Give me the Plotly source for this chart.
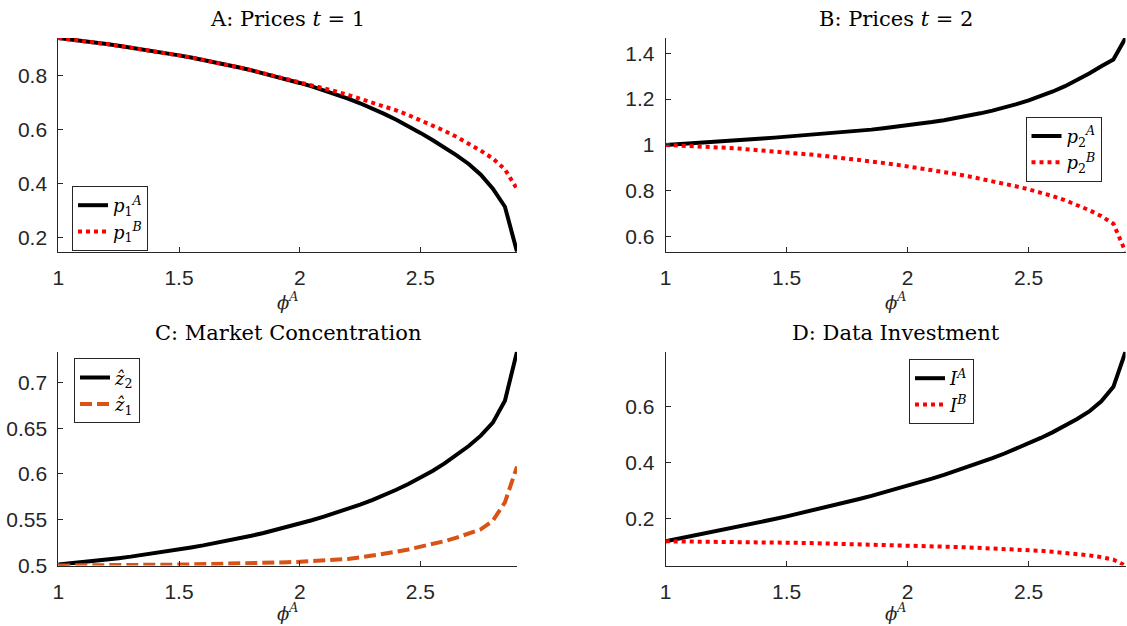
import plotly.graph_objects as go

# ---------------- data ----------------
phi = [1.00, 1.05, 1.10, 1.15, 1.20, 1.25, 1.30, 1.35, 1.40, 1.45,
       1.50, 1.55, 1.60, 1.65, 1.70, 1.75, 1.80, 1.85, 1.90, 1.95,
       2.00, 2.05, 2.10, 2.15, 2.20, 2.25, 2.30, 2.35, 2.40, 2.45,
       2.50, 2.55, 2.60, 2.65, 2.70, 2.75, 2.80, 2.85, 2.90]

p1A = [0.9400, 0.9350, 0.9295, 0.9235, 0.9175, 0.9110, 0.9045, 0.8975, 0.8905, 0.8830,
       0.8755, 0.8675, 0.8590, 0.8500, 0.8405, 0.8305, 0.8200, 0.8090, 0.7975, 0.7855,
       0.7730, 0.7600, 0.7460, 0.7310, 0.7150, 0.6975, 0.6785, 0.6580, 0.6360, 0.6125,
       0.5875, 0.5610, 0.5330, 0.5040, 0.4720, 0.4320, 0.3800, 0.3130, 0.1460]
p1B = [0.9400, 0.9350, 0.9295, 0.9235, 0.9175, 0.9110, 0.9045, 0.8975, 0.8905, 0.8830,
       0.8755, 0.8675, 0.8590, 0.8500, 0.8405, 0.8305, 0.8200, 0.8090, 0.7985, 0.7885,
       0.7780, 0.7660, 0.7540, 0.7415, 0.7285, 0.7150, 0.7010, 0.6865, 0.6710, 0.6535,
       0.6350, 0.6155, 0.5950, 0.5725, 0.5480, 0.5215, 0.4920, 0.4520, 0.3790]

p2A = [1.0000, 1.0030, 1.0062, 1.0095, 1.0130, 1.0166, 1.0203, 1.0241, 1.0280, 1.0320,
       1.0360, 1.0395, 1.0433, 1.0474, 1.0518, 1.0565, 1.0615, 1.0668, 1.0725, 1.0786,
       1.0851, 1.0921, 1.0997, 1.1080, 1.1170, 1.1269, 1.1378, 1.1498, 1.1630, 1.1777,
       1.1941, 1.2125, 1.2330, 1.2560, 1.2820, 1.3110, 1.3430, 1.3720, 1.4660]
p2B = [1.0000, 0.9982, 0.9960, 0.9935, 0.9907, 0.9876, 0.9842, 0.9805, 0.9765, 0.9722,
       0.9677, 0.9630, 0.9580, 0.9527, 0.9471, 0.9412, 0.9350, 0.9285, 0.9217, 0.9146,
       0.9072, 0.8995, 0.8913, 0.8826, 0.8734, 0.8637, 0.8535, 0.8427, 0.8313, 0.8193,
       0.8067, 0.7925, 0.7768, 0.7590, 0.7390, 0.7160, 0.6900, 0.6570, 0.5350]

z2 = [0.5010, 0.5022, 0.5036, 0.5050, 0.5065, 0.5080, 0.5097, 0.5115, 0.5134, 0.5154,
      0.5175, 0.5197, 0.5220, 0.5244, 0.5270, 0.5297, 0.5325, 0.5355, 0.5387, 0.5421,
      0.5457, 0.5494, 0.5533, 0.5574, 0.5618, 0.5665, 0.5715, 0.5769, 0.5827, 0.5890,
      0.5958, 0.6033, 0.6115, 0.6205, 0.6305, 0.6418, 0.6560, 0.6800, 0.7335]
z1 = [0.5000, 0.5000, 0.5000, 0.5000, 0.5001, 0.5002, 0.5003, 0.5004, 0.5006, 0.5008,
      0.5010, 0.5012, 0.5014, 0.5017, 0.5020, 0.5023, 0.5027, 0.5031, 0.5035, 0.5036,
      0.5041, 0.5046, 0.5052, 0.5059, 0.5072, 0.5088, 0.5106, 0.5127, 0.5150, 0.5175,
      0.5202, 0.5232, 0.5266, 0.5304, 0.5345, 0.5395, 0.5490, 0.5690, 0.6080]

IA = [0.1170, 0.1255, 0.1340, 0.1426, 0.1513, 0.1601, 0.1690, 0.1781, 0.1874, 0.1969,
      0.2066, 0.2164, 0.2264, 0.2366, 0.2471, 0.2578, 0.2688, 0.2801, 0.2917, 0.3037,
      0.3160, 0.3287, 0.3418, 0.3554, 0.3695, 0.3842, 0.3995, 0.4155, 0.4323, 0.4499,
      0.4685, 0.4882, 0.5092, 0.5318, 0.5563, 0.5835, 0.6200, 0.6720, 0.7980]
IB = [0.1170, 0.1168, 0.1165, 0.1161, 0.1157, 0.1152, 0.1147, 0.1141, 0.1135, 0.1128,
      0.1121, 0.1113, 0.1105, 0.1096, 0.1087, 0.1077, 0.1067, 0.1056, 0.1045, 0.1033,
      0.1021, 0.1008, 0.0994, 0.0980, 0.0965, 0.0949, 0.0932, 0.0914, 0.0895, 0.0874,
      0.0852, 0.0828, 0.0790, 0.0755, 0.0715, 0.0665, 0.0600, 0.0510, 0.0300]

x_ticks = [1, 1.5, 2, 2.5]
x_ticktext = ["1", "1.5", "2", "2.5"]
yA_ticks = [0.2, 0.4, 0.6, 0.8]
yA_text = ["0.2", "0.4", "0.6", "0.8"]
yB_ticks = [0.6, 0.8, 1.0, 1.2, 1.4]
yB_text = ["0.6", "0.8", "1", "1.2", "1.4"]
yC_ticks = [0.5, 0.55, 0.6, 0.65, 0.7]
yC_text = ["0.5", "0.55", "0.6", "0.65", "0.7"]
yD_ticks = [0.2, 0.4, 0.6]
yD_text = ["0.2", "0.4", "0.6"]

titles = ["A: Prices <i>t</i> = 1", "B: Prices <i>t</i> = 2",
          "C: Market Concentration", "D: Data Investment"]
xlabel = "<i>ϕ</i><sup><i>A</i></sup>"

# ---------------- styling ----------------
W, H = 1127, 626
BLACK = "#000000"
RED = "#FF0000"
ORANGE = "#D95319"
AXC = "#262626"
TICKFONT = dict(family="Liberation Sans, Arial, sans-serif", size=21, color=AXC)
SERIF = "DejaVu Serif, Liberation Serif, serif"

# pixel boxes of the four axes: (left, right, top, bottom)
boxes = [(58.3, 517.0, 38.0, 251.7),
         (665.7, 1125.5, 38.0, 251.7),
         (58.3, 517.0, 351.7, 565.5),
         (665.7, 1125.5, 351.7, 565.5)]
label_off = [49, 49, 46, 46]

fig = go.Figure()

def add(i, y, name, color, dash, legend):
    ax = "" if i == 0 else str(i + 1)
    fig.add_trace(go.Scatter(
        x=phi, y=y, name=name, mode="lines",
        line=dict(color=color, width=4, dash=dash),
        xaxis="x" + ax, yaxis="y" + ax, legend=legend))

add(0, p1A, "<i>p</i><sub>1</sub><sup><i>A</i></sup>", BLACK, "solid", "legend")
add(0, p1B, "<i>p</i><sub>1</sub><sup><i>B</i></sup>", RED, "dot", "legend")
add(1, p2A, "<i>p</i><sub>2</sub><sup><i>A</i></sup>", BLACK, "solid", "legend2")
add(1, p2B, "<i>p</i><sub>2</sub><sup><i>B</i></sup>", RED, "dot", "legend2")
add(2, z2, "<i>ẑ</i><sub>2</sub>", BLACK, "solid", "legend3")
add(2, z1, "<i>ẑ</i><sub>1</sub>", ORANGE, "12px,5px", "legend3")
add(3, IA, "<i>I</i><sup><i>A</i></sup>", BLACK, "solid", "legend4")
add(3, IB, "<i>I</i><sup><i>B</i></sup>", RED, "dot", "legend4")

yticks = [(yA_ticks, yA_text, p1A + p1B), (yB_ticks, yB_text, p2A + p2B),
          (yC_ticks, yC_text, z1 + z2), (yD_ticks, yD_text, IA + IB)]

layout = dict(width=W, height=H, margin=dict(l=0, r=0, t=0, b=0, autoexpand=False),
              paper_bgcolor="white", plot_bgcolor="white", showlegend=True)

annotations = []
for i, (l, r, t, b) in enumerate(boxes):
    ax = "" if i == 0 else str(i + 1)
    tv, tt, allv = yticks[i]
    layout["xaxis" + ax] = dict(
        domain=[l / W, r / W], anchor="y" + ax, range=[min(phi), max(phi)],
        tickvals=x_ticks, ticktext=x_ticktext, ticks="inside", ticklen=5,
        tickwidth=1, tickcolor=AXC, showline=True, linecolor=AXC, linewidth=1,
        showgrid=False, zeroline=False, tickfont=TICKFONT, ticklabelstandoff=7,
        automargin=False)
    layout["yaxis" + ax] = dict(
        domain=[1 - b / H, 1 - t / H], anchor="x" + ax,
        range=[min(allv), max(allv)],
        tickvals=tv, ticktext=tt, ticks="inside", ticklen=5,
        tickwidth=1, tickcolor=AXC, showline=True, linecolor=AXC, linewidth=1,
        showgrid=False, zeroline=False, tickfont=TICKFONT, ticklabelstandoff=6,
        automargin=False)
    cx = (l + r) / 2 / W
    annotations.append(dict(text=titles[i], x=cx, y=1 - (t - 19) / H,
                            xref="paper", yref="paper", showarrow=False,
                            xanchor="center", yanchor="middle",
                            font=dict(family=SERIF, size=21, color="black")))
    annotations.append(dict(text=xlabel, x=cx, y=1 - (b + label_off[i]) / H,
                            xref="paper", yref="paper", showarrow=False,
                            xanchor="center", yanchor="middle",
                            font=dict(family=SERIF, size=18, color=AXC)))
layout["annotations"] = annotations

leg_pos = [(72, 186), (1025.5, 116.7), (74, 358.3), (909, 359)]
for i, (lx, ty) in enumerate(leg_pos):
    key = "legend" if i == 0 else "legend" + str(i + 1)
    layout[key] = dict(x=lx / W, y=1 - ty / H, xanchor="left", yanchor="top",
                       bgcolor="white", bordercolor=AXC, borderwidth=1,
                       font=dict(family=SERIF, size=18, color="black"),
                       tracegroupgap=0, itemwidth=30)

fig.update_layout(**layout)
fig.write_html("out.html", config={"displayModeBar": False},
               post_script="document.body.style.margin='0';"
                           "document.body.style.overflow='hidden';")
